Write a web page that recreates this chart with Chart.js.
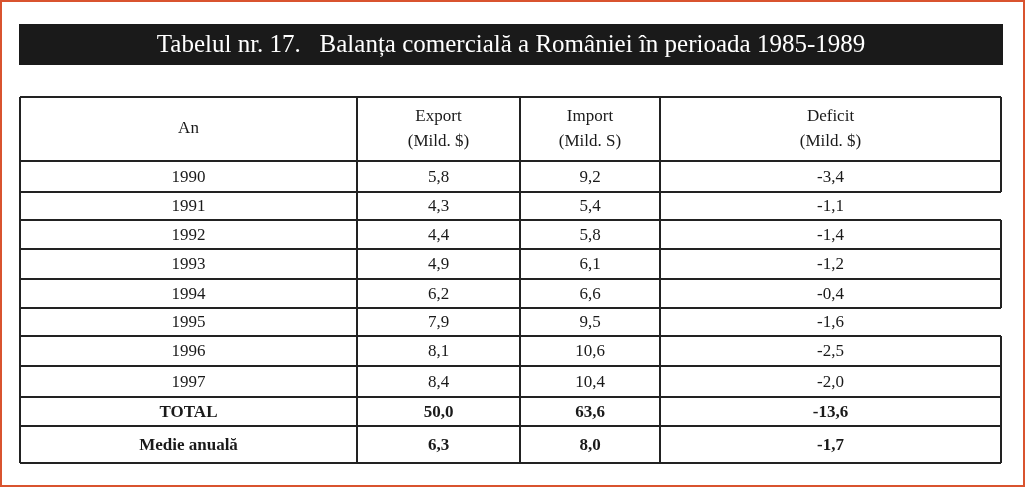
<!DOCTYPE html>
<html><head><meta charset="utf-8">
<script src="https://cdn.jsdelivr.net/npm/chart.js@4/dist/chart.umd.min.js"></script>
<style>html,body{margin:0;padding:0;background:#fff;}#wrap{width:1026px;height:488px;}</style>
</head><body><div id="wrap"><canvas id="c" width="1026" height="488"></canvas></div>
<script>
const title = "Tabelul nr. 17.   Balanța comercială a României în perioada 1985-1989";
const headers = [["An"], ["Export", "(Mild. $)"], ["Import", "(Mild. S)"], ["Deficit", "(Mild. $)"]];
const years = ["1990","1991","1992","1993","1994","1995","1996","1997"];
const exportVals = ["5,8","4,3","4,4","4,9","6,2","7,9","8,1","8,4"];
const importVals = ["9,2","5,4","5,8","6,1","6,6","9,5","10,6","10,4"];
const deficitVals = ["-3,4","-1,1","-1,4","-1,2","-0,4","-1,6","-2,5","-2,0"];
const totalRow = ["TOTAL","50,0","63,6","-13,6"];
const meanRow = ["Medie anuală","6,3","8,0","-1,7"];
const colEdges = [20, 357, 520, 660, 1001];
const rowEdges = [97, 161, 192, 220, 249, 279, 308, 336, 366, 397, 426, 463];
const openRightRows = [2, 6];

const tablePlugin = {
  id: 'table',
  afterDraw(chart) {
    const ctx = chart.ctx, xs = chart.scales.x, ys = chart.scales.y;
    const X = v => xs.getPixelForValue(v), Y = v => ys.getPixelForValue(v);
    ctx.save();
    ctx.strokeStyle = '#d9532f'; ctx.lineWidth = 2;
    ctx.strokeRect(X(1), Y(1), X(1024) - X(1), Y(486) - Y(1));
    ctx.fillStyle = '#1a1a1a';
    ctx.fillRect(X(19), Y(24), X(1003) - X(19), Y(65) - Y(24));
    ctx.fillStyle = '#fff'; ctx.textAlign = 'center'; ctx.textBaseline = 'middle';
    ctx.font = '25px "Liberation Serif", "DejaVu Serif", serif';
    ctx.fillText(title, X(511), Y(45));
    ctx.strokeStyle = '#222'; ctx.lineWidth = 2;
    const L = colEdges[0], R = colEdges[colEdges.length - 1];
    rowEdges.forEach(r => { ctx.beginPath(); ctx.moveTo(X(L), Y(r)); ctx.lineTo(X(R), Y(r)); ctx.stroke(); });
    for (let i = 0; i < colEdges.length - 1; i++) {
      ctx.beginPath(); ctx.moveTo(X(colEdges[i]), Y(rowEdges[0])); ctx.lineTo(X(colEdges[i]), Y(rowEdges[rowEdges.length - 1])); ctx.stroke();
    }
    for (let r = 0; r < rowEdges.length - 1; r++) {
      if (openRightRows.includes(r)) continue;
      ctx.beginPath(); ctx.moveTo(X(R), Y(rowEdges[r])); ctx.lineTo(X(R), Y(rowEdges[r + 1])); ctx.stroke();
    }
    ctx.fillStyle = '#1a1a1a';
    const cx = i => X((colEdges[i] + colEdges[i + 1]) / 2);
    ctx.font = '17px "Liberation Serif", "DejaVu Serif", serif';
    headers.forEach((h, i) => {
      const my = (rowEdges[0] + rowEdges[1]) / 2;
      if (h.length === 1) ctx.fillText(h[0], cx(i), Y(my));
      else { ctx.fillText(h[0], cx(i), Y(my - 12)); ctx.fillText(h[1], cx(i), Y(my + 13)); }
    });
    years.forEach((yr, k) => {
      const my = Y((rowEdges[k + 1] + rowEdges[k + 2]) / 2 + 1);
      [yr, exportVals[k], importVals[k], deficitVals[k]].forEach((t, i) => ctx.fillText(t, cx(i), my));
    });
    ctx.font = 'bold 17px "Liberation Serif", "DejaVu Serif", serif';
    [totalRow, meanRow].forEach((row, j) => {
      const k = years.length + 1 + j;
      const my = Y((rowEdges[k] + rowEdges[k + 1]) / 2 + 1);
      row.forEach((t, i) => ctx.fillText(t, cx(i), my));
    });
    ctx.restore();
  }
};

new Chart(document.getElementById('c'), {
  type: 'scatter',
  data: { datasets: [{ data: [], pointRadius: 0 }] },
  options: {
    responsive: false, animation: false, devicePixelRatio: 1,
    layout: { padding: 0 },
    plugins: { legend: { display: false }, tooltip: { enabled: false } },
    scales: {
      x: { type: 'linear', min: 0, max: 1026, display: false },
      y: { type: 'linear', min: 0, max: 488, reverse: true, display: false }
    }
  },
  plugins: [tablePlugin]
});
</script></body></html>
